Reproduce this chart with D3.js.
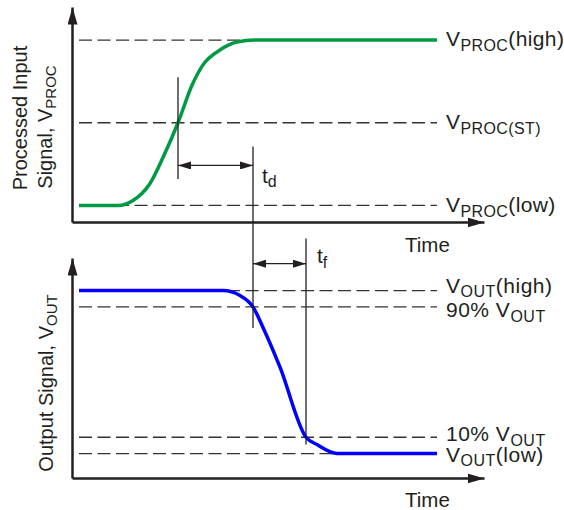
<!DOCTYPE html>
<html>
<head>
<meta charset="utf-8">
<script src="https://cdn.jsdelivr.net/npm/d3@7/dist/d3.min.js"></script>
<style>
  body { margin: 0; background: #fff; }
  text { font-family: "Liberation Sans", Arial, sans-serif; fill: #231f20; }
</style>
</head>
<body>
<svg class="viz" width="564" height="510"></svg>
<script>
// Processed input curve (time units, fraction of VPROC swing)
var timeProc = [1.75, 11.5, 15.25, 19.5, 22.75, 26.5, 30, 32.75, 37, 41.25, 45.75, 91.25];
var vProc    = [0,    0,    0.03,  0.133, 0.29, 0.5,  0.727, 0.85, 0.94, 0.988, 1, 1];

// Output curve (time units, fraction of VOUT swing)
var timeOut = [1.75, 37.75, 42,   45.25, 47.75, 52,   58.5, 61.25, 66.25, 91.25];
var vOut    = [1,    1,     0.97, 0.9,   0.774, 0.53, 0.1,  0.055, 0,     0];

// reference levels + their labels (head, subscript, tail)
var procLevels = [1, 0.5, 0];
var procHead = ["V", "V", "V"];
var procSub  = ["PROC", "PROC(ST)", "PROC"];
var procTail = ["(high)", "", "(low)"];

var outLevels = [1, 0.9, 0.1, 0];
var outHead = ["V", "90% V", "10% V", "V"];
var outSub  = ["OUT", "OUT", "OUT", "OUT"];
var outTail = ["(high)", "", "", "(low)"];

// timing markers: input crosses VPROC(ST), output crosses 90%, output crosses 10%
var markerTimes = [26.5, 45.25, 58.5];

var timeStart = 1.75, timeEnd = 91.25;

var svg = d3.select(".viz");

var xScale = d3.scaleLinear().domain([0, 103]).range([72, 484]);
var yTop = d3.scaleLinear().domain([-0.1, 1.2]).range([222, 7]);
var yBot = d3.scaleLinear().domain([-0.15, 1.2]).range([478, 258]);

var ink = "#231f20";

// arrow markers
var defs = svg.append("defs");
defs.append("marker")
  .attr("id", "axisArrow")
  .attr("markerUnits", "userSpaceOnUse")
  .attr("markerWidth", 18).attr("markerHeight", 10)
  .attr("refX", 17).attr("refY", 5)
  .attr("orient", "auto")
  .append("path").attr("d", "M0,0L17,5L0,10Z").attr("fill", ink);

defs.append("marker")
  .attr("id", "dimArrow")
  .attr("markerUnits", "userSpaceOnUse")
  .attr("markerWidth", 14).attr("markerHeight", 8)
  .attr("refX", 13).attr("refY", 4)
  .attr("orient", "auto-start-reverse")
  .append("path").attr("d", "M0,0L13,4L0,8Z").attr("fill", ink);

// dashed reference lines
svg.selectAll("line.procLevel")
  .data(procLevels).enter().append("line")
  .attr("class", "procLevel")
  .attr("x1", xScale(timeStart)).attr("x2", xScale(timeEnd))
  .attr("y1", function (d) { return yTop(d); })
  .attr("y2", function (d) { return yTop(d); })
  .style("stroke", "#333").style("stroke-width", "1.3px")
  .style("stroke-dasharray", "13,5.5");

svg.selectAll("line.outLevel")
  .data(outLevels).enter().append("line")
  .attr("class", "outLevel")
  .attr("x1", xScale(timeStart)).attr("x2", xScale(timeEnd))
  .attr("y1", function (d) { return yBot(d); })
  .attr("y2", function (d) { return yBot(d); })
  .style("stroke", "#333").style("stroke-width", "1.3px")
  .style("stroke-dasharray", "13,5.5");

// axes, no ticks, just arrows
function drawAxis(g) {
  g.select(".domain")
    .attr("stroke", ink)
    .attr("stroke-width", 2.5)
    .attr("marker-end", "url(#axisArrow)");
}

svg.append("g").attr("transform", "translate(" + xScale(0) + ",0)")
  .call(d3.axisLeft(yTop).tickValues([]).tickSizeOuter(0)).call(drawAxis);
svg.append("g").attr("transform", "translate(0," + yTop(-0.1) + ")")
  .call(d3.axisBottom(xScale).tickValues([]).tickSizeOuter(0)).call(drawAxis);
svg.append("g").attr("transform", "translate(" + xScale(0) + ",0)")
  .call(d3.axisLeft(yBot).tickValues([]).tickSizeOuter(0)).call(drawAxis);
svg.append("g").attr("transform", "translate(0," + yBot(-0.15) + ")")
  .call(d3.axisBottom(xScale).tickValues([]).tickSizeOuter(0)).call(drawAxis);

// signal curves
var procLine = d3.line()
  .x(function (d, i) { return xScale(timeProc[i]); })
  .y(function (d) { return yTop(d); })
  .curve(d3.curveMonotoneX);

var outLine = d3.line()
  .x(function (d, i) { return xScale(timeOut[i]); })
  .y(function (d) { return yBot(d); })
  .curve(d3.curveMonotoneX);

svg.append("path").datum(vProc)
  .attr("d", procLine)
  .attr("fill", "none").attr("stroke", "#009a44").attr("stroke-width", 3.5);

svg.append("path").datum(vOut)
  .attr("d", outLine)
  .attr("fill", "none").attr("stroke", "#0000ff").attr("stroke-width", 3.5);

// vertical marker lines
var markerSpans = [
  [yTop(0.775), yTop(0.16)],
  [yTop(0.357), yBot(0.77)],
  [yBot(1.32), yBot(0.055)]
];
svg.selectAll("line.mark")
  .data(markerTimes).enter().append("line")
  .attr("class", "mark")
  .attr("x1", function (d) { return xScale(d); })
  .attr("x2", function (d) { return xScale(d); })
  .attr("y1", function (d, i) { return markerSpans[i][0]; })
  .attr("y2", function (d, i) { return markerSpans[i][1]; })
  .style("stroke", ink).style("stroke-width", "1.3px");

// td and tf dimension arrows
svg.append("line")
  .attr("x1", xScale(markerTimes[0])).attr("x2", xScale(markerTimes[1]))
  .attr("y1", yTop(0.242)).attr("y2", yTop(0.242))
  .style("stroke", ink).style("stroke-width", "1.3px")
  .attr("marker-start", "url(#dimArrow)").attr("marker-end", "url(#dimArrow)");

svg.append("line")
  .attr("x1", xScale(markerTimes[1])).attr("x2", xScale(markerTimes[2]))
  .attr("y1", yBot(1.165)).attr("y2", yBot(1.165))
  .style("stroke", ink).style("stroke-width", "1.3px")
  .attr("marker-start", "url(#dimArrow)").attr("marker-end", "url(#dimArrow)");

// text with a subscript
function subText(sel, head, sub, tail, size, subSize, shift) {
  sel.attr("font-size", size + "px");
  sel.append("tspan").text(head);
  sel.append("tspan").attr("font-size", subSize + "px").attr("dy", shift).text(sub);
  if (tail) sel.append("tspan").attr("dy", -shift).text(tail);
}

var procDy = [6, 6, 7];
procLevels.forEach(function (v, i) {
  var t = svg.append("text").attr("x", xScale(timeEnd) + 9).attr("y", yTop(v) + procDy[i])
    .attr("letter-spacing", "0.4px");
  subText(t, procHead[i], procSub[i], procTail[i], 21, 16, 5);
});

var outDy = [2, 10.5, 4, 8];
outLevels.forEach(function (v, i) {
  var t = svg.append("text").attr("x", xScale(timeEnd) + 9).attr("y", yBot(v) + outDy[i])
    .attr("letter-spacing", "0.5px");
  subText(t, outHead[i], outSub[i], outTail[i], 21, 16, 4.5);
});

// td / tf labels
subText(svg.append("text").attr("x", xScale(markerTimes[1]) + 9).attr("y", yTop(0.242) + 18),
  "t", "d", "", 21, 16, 4);
subText(svg.append("text").attr("x", xScale(markerTimes[2]) + 11).attr("y", yBot(1.165) - 1),
  "t", "f", "", 21, 16, 5);

// axis titles
svg.append("text").attr("x", 405).attr("y", yTop(-0.1) + 30)
  .attr("font-size", "20.5px").text("Time");
svg.append("text").attr("x", 405).attr("y", yBot(-0.15) + 29)
  .attr("font-size", "20.5px").text("Time");

svg.append("text")
  .attr("transform", "translate(27,118) rotate(-90)")
  .attr("text-anchor", "middle").attr("font-size", "20px")
  .text("Processed Input");

subText(svg.append("text")
  .attr("transform", "translate(52,127) rotate(-90)")
  .attr("text-anchor", "middle"), "Signal, V", "PROC", "", 20, 15, 4);

subText(svg.append("text")
  .attr("transform", "translate(53,383) rotate(-90)")
  .attr("text-anchor", "middle"), "Output Signal, V", "OUT", "", 20, 15, 4);
</script>
</body>
</html>
